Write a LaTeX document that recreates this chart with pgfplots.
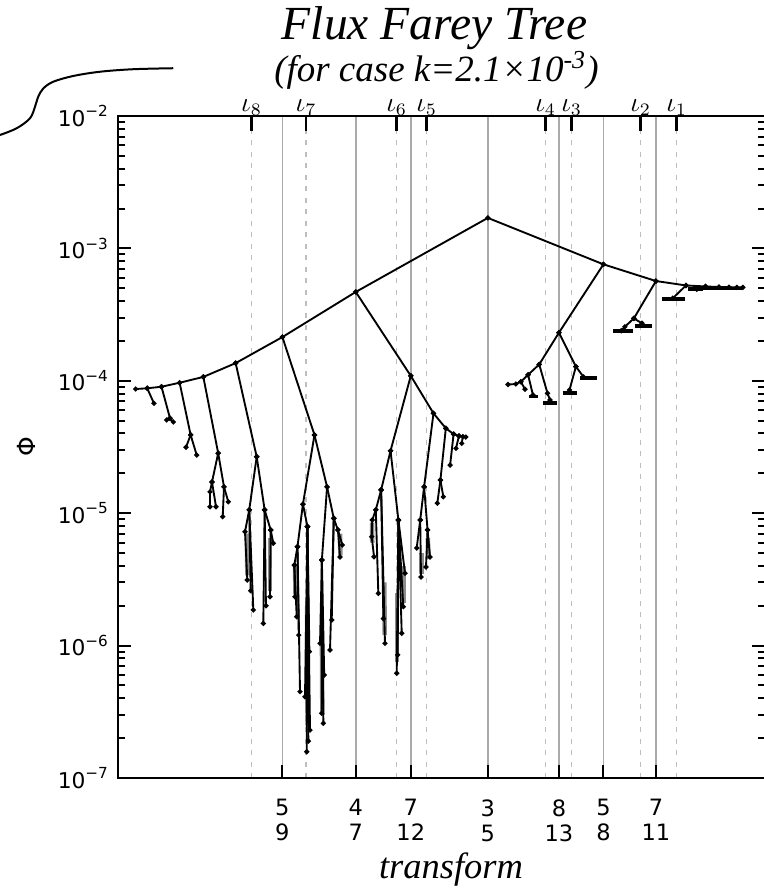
\documentclass[border=0pt]{standalone}
\usepackage{fontspec}
\setmainfont{Liberation Serif}
\setsansfont{DejaVu Sans}
\usepackage{graphicx}
\usepackage{pgfplots}
\pgfplotsset{compat=1.18}

\definecolor{solidgrid}{RGB}{170,170,170}
\definecolor{dashgrid}{RGB}{190,190,190}

\pgfplotsset{
  tree/.style={black, line width=0.75pt, mark=*, mark size=0.6pt, mark options={solid}},
  bar/.style={black, line width=1.5pt, mark=none},
  shade/.style={black!45, line width=1.8pt, mark=none},
  frame/.style={
    scale only axis, width=258.8pt, height=264.8pt,
    at={(0,0)}, anchor=south west,
    xmin=0.52, xmax=0.65995, ymin=1e-7, ymax=1e-2,
    axis line style={line width=0.8pt},
  },
}

\begin{document}
\begin{tikzpicture}
\path[use as bounding box] (-47.2pt,-44pt) rectangle (258pt,311.2pt);

% dashed iota lines
\begin{semilogyaxis}[frame,
  xtick={0.54892,0.56067,0.58029,0.58678,0.61252,0.61814,0.63307,0.64085},
  xticklabels={}, major tick length=0pt,
  xmajorgrids, major x grid style={dashgrid, line width=0.5pt, dash pattern=on 2pt off 2.6pt},
  ytick=\empty]
\end{semilogyaxis}

% iota ticks and labels along the top
\begin{semilogyaxis}[frame,
  xtick={0.54892,0.56067,0.58029,0.58678,0.61252,0.61814,0.63307,0.64085},
  xticklabels={$\iota_8$,$\iota_7$,$\iota_6$,$\iota_5$,$\iota_4$,$\iota_3$,$\iota_2$,$\iota_1$},
  xtick pos=right, xticklabel pos=right,
  tick align=inside, major tick length=6pt,
  every major tick/.style={black, line width=1pt},
  xticklabel style={font=\fontsize{10.5}{11}\selectfont, yshift=-3.5pt},
  ytick=\empty]
\end{semilogyaxis}

\begin{semilogyaxis}[frame,
  tick align=inside, tick style={black, line width=0.8pt},
  major tick length=5.2pt, minor tick length=2.8pt,
  xtick={0.555556,0.571429,0.583333,0.6,0.615385,0.625,0.636364},
  xticklabels={5\\9,4\\7,7\\12,3\\5,8\\13,5\\8,7\\11},
  xtick pos=left,
  xmajorgrids, major x grid style={solidgrid, line width=0.6pt},
  xticklabel style={align=center, font=\fontsize{9}{10}\sffamily, yshift=-5pt},
  ytick={1e-7,1e-6,1e-5,1e-4,1e-3,1e-2},
  yticklabels={10\textsuperscript{−7},10\textsuperscript{−6},10\textsuperscript{−5},10\textsuperscript{−4},10\textsuperscript{−3},10\textsuperscript{−2}},
  minor ytick={2e-7,3e-7,4e-7,5e-7,6e-7,7e-7,8e-7,9e-7,
    2e-6,3e-6,4e-6,5e-6,6e-6,7e-6,8e-6,9e-6,
    2e-5,3e-5,4e-5,5e-5,6e-5,7e-5,8e-5,9e-5,
    2e-4,3e-4,4e-4,5e-4,6e-4,7e-4,8e-4,9e-4,
    2e-3,3e-3,4e-3,5e-3,6e-3,7e-3,8e-3,9e-3},
  yticklabel style={font=\fontsize{8.7}{10}\sffamily},
  ylabel={Φ},
  every axis y label/.style={at={(axis description cs:-0.141,0.5)}, anchor=center, rotate=90, font=\fontsize{10}{10}\sffamily},
]
% grey fill between doubled lines in the deep clusters
\addplot[shade] coordinates {(0.54790,7.0e-6) (0.54797,3.4e-6)};
\addplot[shade] coordinates {(0.55290,6.5e-6) (0.55290,2.6e-6)};
\addplot[shade] coordinates {(0.55829,4.0e-6) (0.55840,2.4e-6)};
\addplot[shade] coordinates {(0.56090,2.0e-6) (0.56100,2.5e-7)};
\addplot[shade] coordinates {(0.56410,1.2e-6) (0.56420,3.0e-7)};
\addplot[shade] coordinates {(0.56802,7.0e-6) (0.56810,4.8e-6)};
\addplot[shade] coordinates {(0.57495,8.5e-6) (0.57500,6.0e-6)};
\addplot[shade] coordinates {(0.57760,3.0e-6) (0.57770,1.2e-6)};
\addplot[shade] coordinates {(0.58040,2.5e-6) (0.58040,7.5e-7)};
\addplot[shade] coordinates {(0.58190,4.0e-6) (0.58190,2.1e-6)};
\addplot[shade] coordinates {(0.58560,5.0e-6) (0.58560,3.5e-6)};
\addplot[shade] coordinates {(0.58700,6.5e-6) (0.58720,4.5e-6)};

% main backbone
\addplot[tree] coordinates {(0.52381,8.67e-5) (0.52632,8.78e-5) (0.52941,9.02e-5) (0.53333,9.67e-5) (0.53846,1.07e-4) (0.54545,1.36e-4) (0.55556,2.14e-4) (0.57143,4.69e-4) (0.6,1.70e-3) (0.625,7.58e-4) (0.63636,5.67e-4) (0.64286,5.25e-4) (0.64706,5.16e-4) (0.65,5.11e-4) (0.65217,5.10e-4) (0.65385,5.08e-4) (0.65517,5.08e-4)};

% small branches off the left backbone
\addplot[tree] coordinates {(0.52632,8.78e-5) (0.52778,6.76e-5)};
\addplot[tree] coordinates {(0.52941,9.02e-5) (0.53125,5.21e-5) (0.53053,5.06e-5)};
\addplot[tree] coordinates {(0.53125,5.21e-5) (0.53196,4.89e-5)};
\addplot[tree] coordinates {(0.53333,9.67e-5) (0.53571,3.90e-5) (0.53471,3.15e-5)};
\addplot[tree] coordinates {(0.53571,3.90e-5) (0.53702,2.75e-5)};
\addplot[tree] coordinates {(0.53846,1.07e-4) (0.54167,2.84e-5) (0.54033,1.72e-5) (0.53990,1.45e-5) (0.53990,1.12e-5)};
\addplot[tree] coordinates {(0.54033,1.72e-5) (0.54120,1.12e-5)};
\addplot[tree] coordinates {(0.54167,2.84e-5) (0.54293,1.58e-5) (0.54265,9.41e-6)};
\addplot[tree] coordinates {(0.54293,1.58e-5) (0.54386,1.22e-5)};

% 6/11 subtree
\addplot[tree] coordinates {(0.54545,1.36e-4) (0.55,2.67e-5) (0.54839,1.06e-5) (0.54747,7.25e-6) (0.54797,3.13e-6)};
\addplot[tree] coordinates {(0.54839,1.06e-5) (0.54927,1.86e-6)};
\addplot[tree] coordinates {(0.54839,1.06e-5) (0.54870,2.60e-6)};
\addplot[tree] coordinates {(0.55,2.67e-5) (0.55172,1.06e-5) (0.55303,7.47e-6) (0.55359,5.93e-6)};
\addplot[tree] coordinates {(0.55303,7.47e-6) (0.55288,2.34e-6)};
\addplot[tree] coordinates {(0.55172,1.06e-5) (0.55143,1.47e-6)};
\addplot[tree] coordinates {(0.55172,1.06e-5) (0.55200,2.00e-6)};

% 5/9 subtree
\addplot[tree] coordinates {(0.55556,2.14e-4) (0.5625,3.90e-5) (0.56,1.17e-5) (0.55882,5.58e-6) (0.55814,4.06e-6) (0.55829,2.34e-6)};
\addplot[tree] coordinates {(0.55814,4.06e-6) (0.55866,1.65e-6)};
\addplot[tree] coordinates {(0.55882,5.58e-6) (0.55937,4.49e-7)};
\addplot[tree] coordinates {(0.55882,5.58e-6) (0.55910,1.20e-6)};
\addplot[tree] coordinates {(0.56,1.17e-5) (0.56098,7.91e-6) (0.56082,1.58e-7)};
\addplot[tree] coordinates {(0.56098,7.91e-6) (0.56153,2.30e-7)};
\addplot[tree] coordinates {(0.56098,7.91e-6) (0.56045,4.11e-7)};
\addplot[tree] coordinates {(0.56098,7.91e-6) (0.56117,1.90e-7)};
\addplot[tree] coordinates {(0.56098,7.91e-6) (0.56140,9.00e-7)};
\addplot[tree] coordinates {(0.5625,3.90e-5) (0.56522,1.58e-5) (0.56667,9.15e-6) (0.56757,7.47e-6) (0.56802,4.67e-6)};
\addplot[tree] coordinates {(0.56757,7.47e-6) (0.56852,5.75e-6)};
\addplot[tree] coordinates {(0.56522,1.58e-5) (0.5641,4.43e-6) (0.56370,1.04e-6)};
\addplot[tree] coordinates {(0.5641,4.43e-6) (0.56407,3.08e-7)};
\addplot[tree] coordinates {(0.5641,4.43e-6) (0.56442,2.59e-7)};
\addplot[tree] coordinates {(0.5641,4.43e-6) (0.56460,6.00e-7)};
\addplot[tree] coordinates {(0.56667,9.15e-6) (0.56623,1.56e-6)};
\addplot[tree] coordinates {(0.56667,9.15e-6) (0.56586,9.26e-7)};

% 7/12 subtree
\addplot[tree] coordinates {(0.57143,4.69e-4) (0.58333,1.09e-4) (0.58824,5.68e-5) (0.59091,4.38e-5) (0.59259,3.96e-5) (0.59375,3.83e-5) (0.59524,3.76e-5)};
\addplot[tree] coordinates {(0.58824,5.68e-5) (0.58621,1.58e-5) (0.58537,8.88e-6) (0.58461,5.46e-6)};
\addplot[tree] coordinates {(0.58537,8.88e-6) (0.58554,3.30e-6)};
\addplot[tree] coordinates {(0.58621,1.58e-5) (0.58696,7.47e-6) (0.58662,3.92e-6)};
\addplot[tree] coordinates {(0.58696,7.47e-6) (0.58749,4.67e-6)};
\addplot[tree] coordinates {(0.59091,4.38e-5) (0.58974,1.78e-5) (0.58907,1.19e-5)};
\addplot[tree] coordinates {(0.58974,1.78e-5) (0.59037,1.33e-5)};
\addplot[tree] coordinates {(0.59259,3.96e-5) (0.59184,2.31e-5)};
\addplot[tree] coordinates {(0.59375,3.83e-5) (0.59311,3.09e-5)};
\addplot[tree] coordinates {(0.59459,3.79e-5) (0.59435,3.37e-5)};
\addplot[tree] coordinates {(0.58333,1.09e-4) (0.57895,2.96e-5) (0.57692,1.50e-5) (0.57576,1.06e-5) (0.575,8.88e-6) (0.57488,6.65e-6) (0.57538,4.69e-6)};
\addplot[tree] coordinates {(0.57576,1.06e-5) (0.57631,2.48e-6)};
\addplot[tree] coordinates {(0.57692,1.50e-5) (0.57775,1.04e-6)};
\addplot[tree] coordinates {(0.57692,1.50e-5) (0.57740,1.60e-6)};
\addplot[tree] coordinates {(0.57895,2.96e-5) (0.58065,8.88e-6) (0.58029,6.18e-7)};
\addplot[tree] coordinates {(0.58065,8.88e-6) (0.58208,3.52e-6)};
\addplot[tree] coordinates {(0.58065,8.88e-6) (0.58171,1.97e-6)};
\addplot[tree] coordinates {(0.58065,8.88e-6) (0.58137,1.24e-6)};
\addplot[tree] coordinates {(0.58065,8.88e-6) (0.58050,8.50e-7)};

% 8/13 subtree
\addplot[tree] coordinates {(0.625,7.58e-4) (0.61538,2.31e-4) (0.61111,1.33e-4) (0.6087,1.11e-4) (0.60714,9.84e-5) (0.60606,9.46e-5) (0.60436,9.37e-5)};
\addplot[tree] coordinates {(0.61111,1.33e-4) (0.6129,8.05e-5) (0.61345,7.16e-5)};
\addplot[bar] coordinates {(0.61193,6.83e-5) (0.61496,6.83e-5)};
\addplot[tree] coordinates {(0.6087,1.11e-4) (0.60976,7.81e-5)};
\addplot[bar] coordinates {(0.60891,7.61e-5) (0.61086,7.61e-5)};
\addplot[tree] coordinates {(0.60714,9.84e-5) (0.60804,8.63e-5)};
\addplot[tree] coordinates {(0.61538,2.31e-4) (0.61905,1.28e-4) (0.62069,1.07e-4)};
\addplot[bar] coordinates {(0.61994,1.05e-4) (0.62362,1.05e-4)};
\addplot[tree] coordinates {(0.61905,1.28e-4) (0.61765,8.52e-5)};
\addplot[bar] coordinates {(0.61626,8.05e-5) (0.61929,8.05e-5)};

% 7/11 subtree
\addplot[tree] coordinates {(0.63636,5.67e-4) (0.63158,2.96e-4) (0.62963,2.56e-4) (0.62886,2.39e-4)};
\addplot[bar] coordinates {(0.62708,2.39e-4) (0.6314,2.39e-4)};
\addplot[tree] coordinates {(0.63158,2.96e-4) (0.63333,2.72e-4)};
\addplot[bar] coordinates {(0.63184,2.61e-4) (0.63551,2.61e-4)};
\addplot[tree] coordinates {(0.64286,5.25e-4) (0.64,4.20e-4)};
\addplot[bar] coordinates {(0.63767,4.13e-4) (0.64265,4.13e-4)};
\addplot[tree] coordinates {(0.64706,5.16e-4) (0.64516,4.91e-4)};
\addplot[bar] coordinates {(0.64336,4.91e-4) (0.64661,4.91e-4)};
\addplot[bar] coordinates {(0.64589,4.98e-4) (0.65519,4.98e-4)};
\end{semilogyaxis}

\node[anchor=base, font=\fontsize{19}{19}\selectfont\itshape] at (126.6pt,295.2pt) {Flux Farey Tree};
\node[anchor=base, font=\fontsize{14.8}{15}\selectfont\itshape] at (127.4pt,278.5pt) {(for case k=2.1×10\textsuperscript{-3})};
\node[anchor=base, font=\fontsize{14.6}{15}\selectfont\itshape] at (133.2pt,-40pt) {transform};
\draw[line width=0.8pt] plot[smooth, tension=0.55] coordinates {(-47.2pt,257.2pt) (-40.5pt,259.9pt) (-35.2pt,263.9pt) (-33.2pt,268.5pt) (-31.9pt,272.5pt) (-29.9pt,275.8pt) (-25.9pt,278.5pt) (-17.9pt,280.8pt) (-7.2pt,282.5pt) (6pt,283.5pt) (22.1pt,283.9pt)};
\end{tikzpicture}
\end{document}
